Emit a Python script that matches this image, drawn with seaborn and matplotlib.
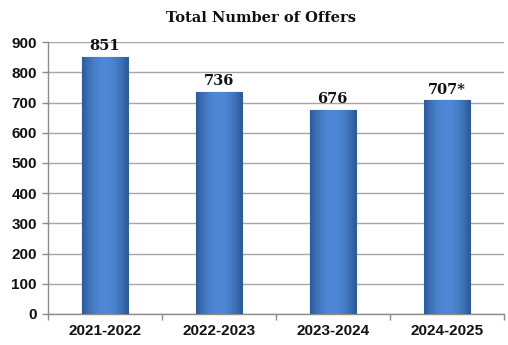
import matplotlib
matplotlib.use("Agg")
import matplotlib.pyplot as plt
import numpy as np
import pandas as pd
import seaborn as sns

seasons = ["2021-2022", "2022-2023", "2023-2024", "2024-2025"]
offers = [851, 736, 676, 707]
value_labels = ["851", "736", "676", "707*"]

df = pd.DataFrame({"season": seasons, "offers": offers})

sns.set_theme(style="white")
fig = plt.figure(figsize=(5.08, 3.45), dpi=100)
ax = fig.add_axes([0.0945, 0.09, 0.897, 0.788])

sns.barplot(data=df, x="season", y="offers", color="#4A80CC", width=0.4,
            edgecolor="#2F5E9E", linewidth=0.8, ax=ax, zorder=3)

# horizontal shading across each bar: darker edges, lighter centre
shade = np.linspace(-1, 1, 64)
shade = 1 - 0.35 * shade ** 2
cmap = matplotlib.colors.LinearSegmentedColormap.from_list(
    "bar", ["#2C5A98", "#4F88D6"])
for patch in ax.patches:
    x0, y0 = patch.get_x(), patch.get_y()
    w, h = patch.get_width(), patch.get_height()
    im = ax.imshow(shade[np.newaxis, :], cmap=cmap, vmin=0.65, vmax=1,
                   extent=[x0, x0 + w, y0, y0 + h], aspect="auto",
                   zorder=3.5, interpolation="bicubic")
    im.set_clip_path(patch)

ax.set_xlim(-0.5, 3.5)
ax.set_ylim(0, 900)
ax.set_yticks(range(0, 901, 100))
ax.yaxis.grid(True, color="#A6A6A6", linewidth=1)
ax.set_axisbelow(True)

for i, (v, lab) in enumerate(zip(offers, value_labels)):
    ax.text(i, v + 12, lab, ha="center", va="bottom", fontsize=10.5,
            fontweight="bold", family="DejaVu Serif", color="#111111")

fig.text(261 / 508, 1 - 18 / 345, "Total Number of Offers", fontsize=10.5,
         fontweight="bold", family="DejaVu Serif", color="#111111",
         ha="center", va="center")
ax.set_xlabel("")
ax.set_ylabel("")

for s in ["top", "right"]:
    ax.spines[s].set_visible(False)
for s in ["left", "bottom"]:
    ax.spines[s].set_color("#8C8C8C")
    ax.spines[s].set_linewidth(1)

# category boundary ticks on the x axis
ax.set_xticks([0, 1, 2, 3])
ax.set_xticklabels(seasons)
ax.set_xticks([-0.5, 0.5, 1.5, 2.5, 3.5], minor=True)
ax.tick_params(axis="x", which="major", length=0, pad=7)
ax.tick_params(axis="x", which="minor", length=4, color="#8C8C8C", width=1,
               direction="out", bottom=True)
ax.tick_params(axis="y", length=4, color="#8C8C8C", width=1, direction="out",
               left=True, pad=4)
for lab in ax.get_xticklabels() + ax.get_yticklabels():
    lab.set_fontweight("bold")
    lab.set_family("Liberation Sans")
    lab.set_fontsize(11)
    lab.set_color("#111111")

fig.savefig("out.png", dpi=100, facecolor="white")
